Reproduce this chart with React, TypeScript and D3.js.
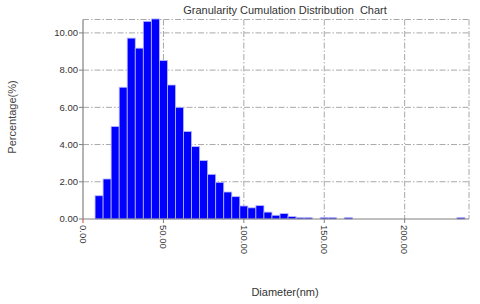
import React from 'react';
import * as d3 from 'd3';

const binCenters = [10, 15, 20, 25, 30, 35, 40, 45, 50, 55, 60, 65, 70, 75, 80, 85, 90, 95, 100, 105, 110, 115, 120, 125, 130, 135, 140, 150, 155, 165, 235];
const percentages = [1.25, 2.15, 4.97, 7.08, 9.72, 9.18, 10.62, 10.75, 8.52, 7.2, 6.0, 4.7, 3.89, 3.14, 2.4, 1.97, 1.45, 1.2, 0.7, 0.6, 0.72, 0.37, 0.2, 0.29, 0.13, 0.08, 0.08, 0.08, 0.08, 0.08, 0.08];
const binWidth = 5;
const xTicks = [0, 50, 100, 150, 200];
const yTicks = [0, 2, 4, 6, 8, 10];
const title = 'Granularity Cumulation Distribution  Chart';
const xTitle = 'Diameter(nm)';
const yTitle = 'Percentage(%)';

export default function App() {
  const W = 480, H = 304;
  const left = 83, right = 469, top = 19.5, bottom = 219;
  const x = d3.scaleLinear().domain([0, 240]).range([left, right]);
  const y = d3.scaleLinear().domain([0, 10.72]).range([bottom, top]);
  const font = 'Liberation Sans, Arial, sans-serif';
  const grid = '#a8a8a8';
  const dash = '6,2,1.5,2';
  return (
    <svg width={W} height={H} style={{ position: 'absolute', left: 0, top: 0, background: '#fff' }} fontFamily={font}>
      {yTicks.filter(t => t > 0).map(t => (
        <line key={'gy' + t} x1={left} x2={right} y1={y(t)} y2={y(t)} stroke={grid} strokeWidth={1} strokeDasharray={dash} />
      ))}
      {xTicks.filter(t => t > 0).map(t => (
        <line key={'gx' + t} x1={x(t)} x2={x(t)} y1={top} y2={bottom} stroke={grid} strokeWidth={1} strokeDasharray={dash} />
      ))}
      <line x1={left} x2={right} y1={top} y2={top} stroke={grid} strokeDasharray={dash} />
      <line x1={right} x2={right} y1={top} y2={bottom} stroke={grid} strokeDasharray={dash} />
      {binCenters.map((c, i) => (
        <rect key={'b' + i} x={x(c - binWidth / 2)} y={y(percentages[i])} width={x(c + binWidth / 2) - x(c - binWidth / 2)} height={y(0) - y(percentages[i])} fill="#0000ff" stroke="#b8b8ff" strokeWidth={0.8} />
      ))}
      <line x1={left} x2={left} y1={top} y2={bottom} stroke="#808080" strokeWidth={1.2} />
      <line x1={left} x2={right} y1={bottom} y2={bottom} stroke="#808080" strokeWidth={1.2} />
      {yTicks.map(t => (
        <g key={'yt' + t}>
          <line x1={left - 4} x2={left} y1={y(t)} y2={y(t)} stroke="#808080" />
          <text x={left - 5} y={y(t)} dy="0.35em" textAnchor="end" fontSize={9.5} fill="#333">{t.toFixed(2)}</text>
        </g>
      ))}
      {xTicks.map(t => (
        <g key={'xt' + t}>
          <line x1={x(t)} x2={x(t)} y1={bottom} y2={bottom + 4} stroke={t === 0 ? '#d04040' : '#808080'} />
          <text transform={`translate(${x(t)},${bottom + 6}) rotate(90)`} dy="0.35em" textAnchor="start" fontSize={9.5} fill="#333">{t.toFixed(2)}</text>
        </g>
      ))}
      <text x={285} y={14} textAnchor="middle" fontSize={11} fill="#333" style={{ whiteSpace: 'pre' }}>{title}</text>
      <text x={285} y={296} textAnchor="middle" fontSize={11} fill="#333">{xTitle}</text>
      <text transform={`translate(16,117) rotate(-90)`} textAnchor="middle" fontSize={11} fill="#444">{yTitle}</text>
    </svg>
  );
}
